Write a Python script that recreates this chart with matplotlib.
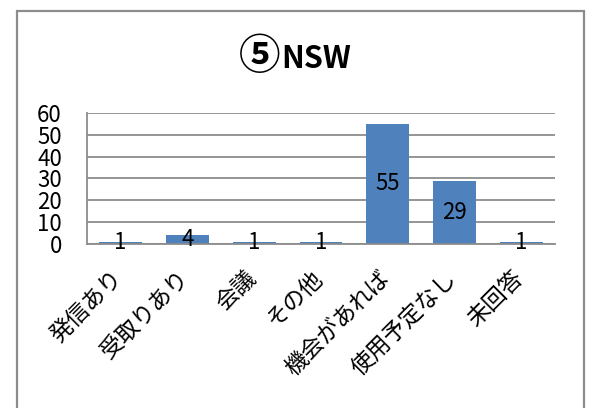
import matplotlib
matplotlib.use('Agg')
import matplotlib.pyplot as plt
import matplotlib.transforms as mtransforms
from matplotlib.patches import Rectangle

plt.rcParams['font.family'] = ['Noto Sans CJK JP', 'DejaVu Sans']

categories = ['発信あり', '受取りあり', '会議', 'その他', '機会があれば', '使用予定なし', '未回答']
values = [1, 4, 1, 1, 55, 29, 1]
yticks = [0, 10, 20, 30, 40, 50, 60]

W, H = 594, 408
fig = plt.figure(figsize=(W/100, H/100), dpi=100)
# chart border
fig.patches.append(Rectangle((17/W, -0.01), (584-17)/W, 1.01-11/H, transform=fig.transFigure,
                             fill=False, edgecolor='#8c8c8c', linewidth=1.6))

ax = fig.add_axes([87/W, 1-244/H, (555-87)/W, (244-113)/H])
x = range(len(categories))
ax.bar(x, values, width=0.64, color='#4f81bd', zorder=2)
ax.set_xlim(-0.5, len(categories)-0.5)
ax.set_ylim(0, 60)
ax.set_yticks(yticks)
ax.set_yticklabels([str(v) for v in yticks], fontsize=16)
ax.yaxis.grid(True, color='#8c8c8c', linewidth=1.3, zorder=0)
ax.tick_params(axis='y', length=0, pad=18)
ax.tick_params(axis='x', length=0, pad=22)
for s in ['top', 'right']:
  ax.spines[s].set_visible(False)
for s in ['left', 'bottom']:
  ax.spines[s].set_color('#8c8c8c')
  ax.spines[s].set_linewidth(1.3)
ax.spines['bottom'].set_zorder(3)

# data labels in the middle of each bar
for i, v in enumerate(values):
  ax.text(i, v/2.0, str(v), ha='center', va='center', fontsize=16, zorder=4)

ax.set_xticks(list(x))
ax.set_xticklabels(categories, rotation=45, ha='right', va='center',
                   rotation_mode='anchor', fontsize=16.5)
shift = mtransforms.ScaledTranslation(-2/100, 0, fig.dpi_scale_trans)
for lbl in ax.get_xticklabels():
  lbl.set_transform(lbl.get_transform() + shift)

# title: circled digit drawn a bit larger, like the original
fig.text(281/W, 1-69/H, '⑤', ha='right', va='baseline', fontsize=30, fontweight='bold')
fig.text(281/W, 1-68/H, 'NSW', ha='left', va='baseline', fontsize=22, fontweight='bold')

fig.savefig('out.png', dpi=100)
